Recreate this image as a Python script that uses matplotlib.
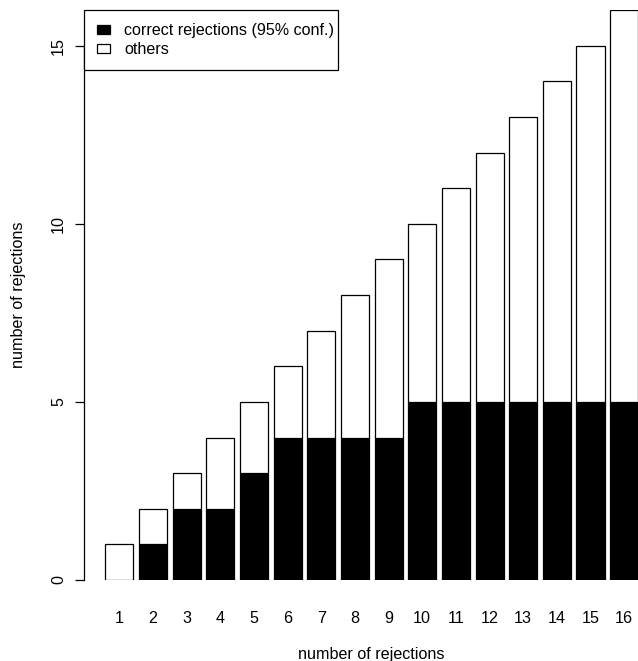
import matplotlib
matplotlib.use("Agg")
import matplotlib.pyplot as plt
from matplotlib.patches import Patch

categories = [str(i) for i in range(1, 17)]
correct = [0, 1, 2, 2, 3, 4, 4, 4, 4, 5, 5, 5, 5, 5, 5, 5]
total = list(range(1, 17))
others = [t - c for t, c in zip(total, correct)]
yticks = [0, 5, 10, 15]

plt.rcParams['font.family'] = ['Liberation Sans', 'DejaVu Sans']
FS = 11.6

W, H = 638, 661
fig = plt.figure(figsize=(W / 100, H / 100), dpi=100)
left_px, right_px, top_px, bottom_px = 84, 659.5, 10, 580
ax = fig.add_axes([left_px / W, (H - bottom_px) / H, (right_px - left_px) / W, (bottom_px - top_px) / H])

x = [0.7 + 1.2 * i for i in range(len(categories))]
ax.bar(x, correct, width=1.0, color='black', edgecolor='black', linewidth=0.9)
ax.bar(x, others, width=1.0, bottom=correct, color='white', edgecolor='black', linewidth=0.9)

ax.set_xlim(-0.56, 19.96)
ax.set_ylim(0, 16)

for s in ['top', 'right', 'bottom']:
    ax.spines[s].set_visible(False)
ax.spines['left'].set_bounds(0, 15)
ax.spines['left'].set_linewidth(0.9)

ax.set_yticks(yticks)
ax.set_yticklabels([str(v) for v in yticks], rotation=90, va='center')
ax.tick_params(axis='y', length=6.5, width=0.9, pad=6.5, labelsize=FS)
ax.set_xticks(x)
ax.set_xticklabels(categories)
ax.tick_params(axis='x', length=0, pad=22, labelsize=FS)

ax.set_ylabel('number of rejections', fontsize=FS, va='center')
ax.yaxis.set_label_coords((18 - left_px) / (right_px - left_px), 0.5)
ax.set_xlabel('number of rejections', fontsize=FS, va='center')
ax.xaxis.set_label_coords((371.5 - left_px) / (right_px - left_px), (bottom_px - 655) / (bottom_px - top_px))

handles = [Patch(facecolor='black', edgecolor='black', linewidth=0.9),
           Patch(facecolor='white', edgecolor='black', linewidth=0.9)]
leg_w = (338 - left_px) / (right_px - left_px)
leg = ax.legend(handles, ['correct rejections (95% conf.)', 'others'], loc='upper left',
                bbox_to_anchor=(0, 1, leg_w, 0), mode='expand', borderaxespad=0,
                fancybox=False, fontsize=FS,
                handlelength=0.79, handleheight=0.5, handletextpad=0.87,
                labelspacing=0.24, borderpad=0.82, framealpha=1)
leg.get_frame().set_edgecolor('black')
leg.get_frame().set_linewidth(0.9)

fig.savefig('out.png', dpi=100)
